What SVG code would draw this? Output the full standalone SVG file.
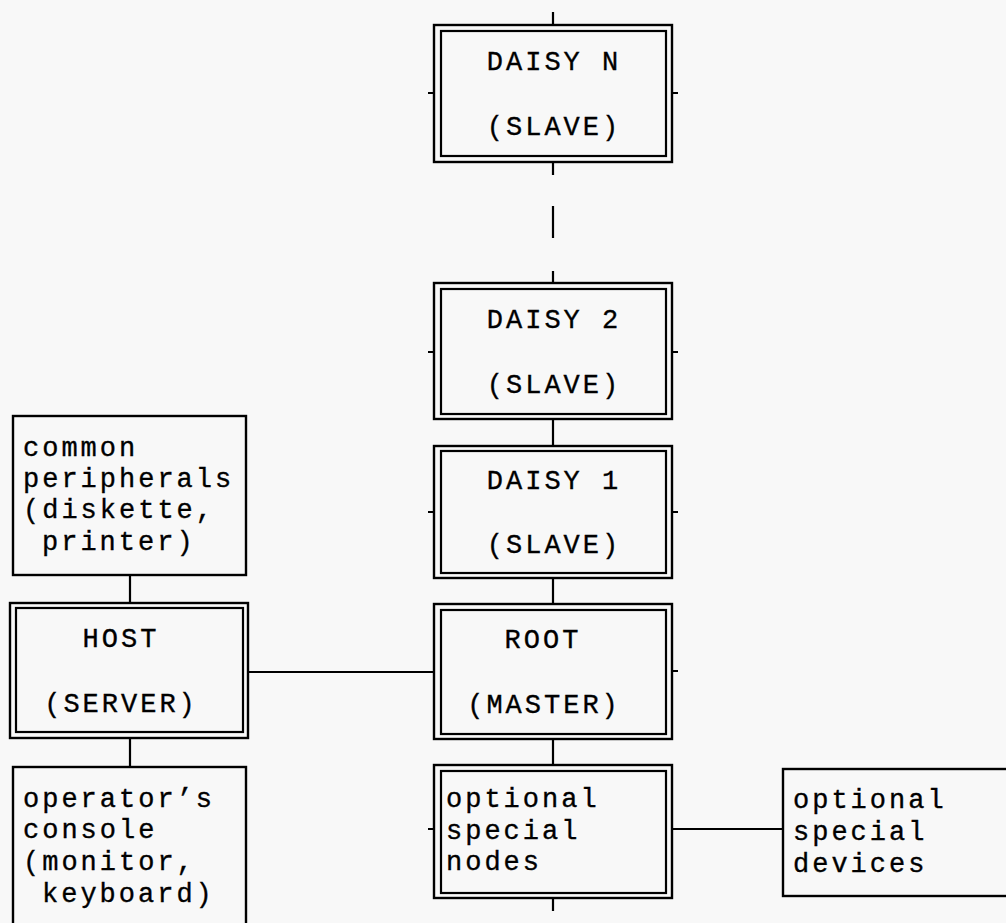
<svg xmlns="http://www.w3.org/2000/svg" width="1006" height="923" viewBox="0 0 1006 923">
  <style>
    .bg { fill: #f8f8f8; }
    .box { fill: none; stroke: #000; stroke-width: 2.4; }
    .inner { fill: none; stroke: #000; stroke-width: 2.2; }
    .wire { fill: none; stroke: #000; stroke-width: 2.2; }
    text { font-family: "Courier New", "Nimbus Mono PS", "FreeMono", "Liberation Mono", monospace; font-size: 27px; letter-spacing: 3px; fill: #000; stroke: #000; stroke-width: 0.35; }
    .c { text-anchor: middle; }
  </style>
  <rect class="bg" x="0" y="0" width="1006" height="923"/>

  <!-- connectors -->
  <g id="connectors">
    <!-- DAISY N stubs -->
    <path class="wire" d="M553 12V25 M553 162V175 M428 93H434 M672 93H678"/>
    <!-- break in the chain -->
    <path class="wire" d="M553 206V238"/>
    <!-- DAISY 2 stubs and link to DAISY 1 -->
    <path class="wire" d="M553 271V283 M553 419V446 M428 352H434 M672 352H678"/>
    <!-- DAISY 1 stubs and link to ROOT -->
    <path class="wire" d="M553 578V604 M428 512H434 M672 512H678"/>
    <!-- ROOT to optional special nodes, right stub -->
    <path class="wire" d="M553 739V765 M672 671H678"/>
    <!-- HOST to ROOT -->
    <path class="wire" d="M248 672H434"/>
    <!-- peripherals to HOST, HOST to console -->
    <path class="wire" d="M130 575V603 M130 738V767"/>
    <!-- optional special nodes stubs and link to devices -->
    <path class="wire" d="M553 898V911 M428 829H434 M672 829H783"/>
  </g>

  <g id="daisyN">
    <rect class="box" x="434" y="25" width="238" height="137"/>
    <rect class="inner" x="441" y="31" width="225" height="125"/>
    <text class="c" x="554" y="70">DAISY N</text>
    <text class="c" x="554" y="135">(SLAVE)</text>
  </g>

  <g id="daisy2">
    <rect class="box" x="434" y="283" width="238" height="136"/>
    <rect class="inner" x="441" y="289" width="225" height="125"/>
    <text class="c" x="554" y="328">DAISY 2</text>
    <text class="c" x="554" y="393">(SLAVE)</text>
  </g>

  <g id="daisy1">
    <rect class="box" x="434" y="446" width="238" height="132"/>
    <rect class="inner" x="441" y="451" width="225" height="122"/>
    <text class="c" x="554" y="489">DAISY 1</text>
    <text class="c" x="554" y="553">(SLAVE)</text>
  </g>

  <g id="root">
    <rect class="box" x="434" y="604" width="238" height="135"/>
    <rect class="inner" x="441" y="610" width="225" height="124"/>
    <text class="c" x="543" y="648">ROOT</text>
    <text class="c" x="544" y="713">(MASTER)</text>
  </g>

  <g id="specialNodes">
    <rect class="box" x="434" y="765" width="238" height="133"/>
    <rect class="inner" x="441" y="771" width="225" height="122"/>
    <text x="446" y="807">optional</text>
    <text x="446" y="839">special</text>
    <text x="446" y="870">nodes</text>
  </g>

  <g id="specialDevices">
    <rect class="box" x="783" y="769" width="240" height="127"/>
    <text x="793" y="808">optional</text>
    <text x="793" y="840">special</text>
    <text x="793" y="872">devices</text>
  </g>

  <g id="peripherals">
    <rect class="box" x="13" y="416" width="233" height="159"/>
    <text x="23" y="456">common</text>
    <text x="23" y="487">peripherals</text>
    <text x="23" y="518">(diskette,</text>
    <text x="42" y="550">printer)</text>
  </g>

  <g id="host">
    <rect class="box" x="10" y="603" width="238" height="135"/>
    <rect class="inner" x="16" y="608" width="227" height="124"/>
    <text class="c" x="121" y="647">HOST</text>
    <text class="c" x="121" y="712">(SERVER)</text>
  </g>

  <g id="console">
    <rect class="box" x="13" y="767" width="233" height="170"/>
    <text x="23" y="807">operator’s</text>
    <text x="23" y="838">console</text>
    <text x="23" y="870">(monitor,</text>
    <text x="42" y="902">keyboard)</text>
  </g>
</svg>
